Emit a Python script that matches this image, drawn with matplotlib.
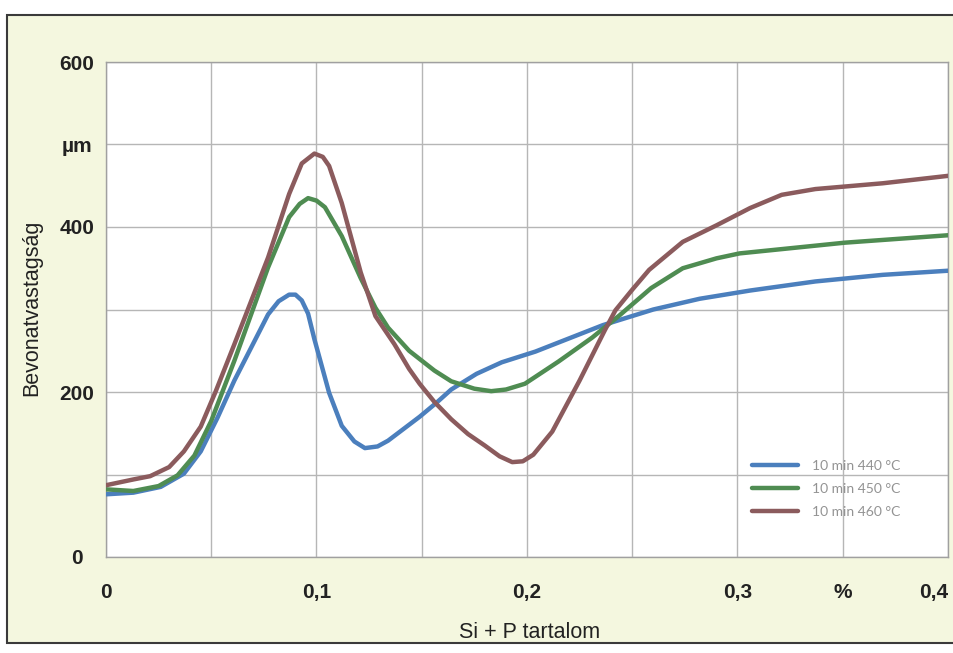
import matplotlib
matplotlib.use("Agg")
import matplotlib.pyplot as plt
from matplotlib.patches import Rectangle

# Si + P content (%) and coating thickness (um)
x_440 = [0, 0.013, 0.026, 0.037, 0.045, 0.053, 0.061, 0.077, 0.082, 0.087, 0.090,
         0.093, 0.096, 0.099, 0.106, 0.112, 0.118, 0.123, 0.129, 0.134, 0.149,
         0.157, 0.164, 0.176, 0.188, 0.204, 0.220, 0.236, 0.260, 0.282, 0.306,
         0.337, 0.369, 0.4]
y_440 = [76, 78, 85, 101, 128, 169, 214, 294, 310, 318, 318,
         311, 295, 264, 199, 159, 140, 132, 134, 141, 170,
         187, 203, 222, 236, 249, 265, 281, 300, 313, 323,
         334, 342, 347]

x_450 = [0, 0.013, 0.025, 0.034, 0.042, 0.050, 0.061, 0.077, 0.087, 0.092, 0.096,
         0.100, 0.104, 0.112, 0.121, 0.128, 0.134, 0.144, 0.156, 0.164, 0.175,
         0.183, 0.190, 0.199, 0.215, 0.231, 0.244, 0.259, 0.274, 0.290, 0.301,
         0.351, 0.4]
y_450 = [82, 80, 86, 99, 123, 165, 238, 351, 412, 428, 435,
         432, 424, 389, 338, 302, 278, 250, 226, 213, 204,
         201, 203, 210, 237, 266, 293, 326, 350, 362, 368,
         381, 390]

x_460 = [0, 0.013, 0.021, 0.030, 0.037, 0.045, 0.052, 0.061, 0.077, 0.087, 0.093,
         0.099, 0.103, 0.106, 0.112, 0.121, 0.128, 0.137, 0.144, 0.149, 0.156,
         0.164, 0.172, 0.180, 0.187, 0.193, 0.198, 0.203, 0.212, 0.225, 0.237,
         0.242, 0.250, 0.258, 0.274, 0.290, 0.306, 0.321, 0.337, 0.369, 0.4]
y_460 = [87, 94, 98, 109, 128, 158, 200, 258, 363, 440, 477,
         489, 485, 474, 429, 345, 292, 258, 228, 210, 188,
         167, 149, 135, 122, 115, 116, 124, 152, 214, 275,
         299, 324, 348, 382, 402, 423, 439, 446, 453, 462]

series_labels = ["10 min 440 °C", "10 min 450 °C", "10 min 460 °C"]
series_colors = ["#4b7fbd", "#4f8c52", "#8b5b5d"]

x_ticks = [0, 0.05, 0.1, 0.15, 0.2, 0.25, 0.3, 0.35, 0.4]
x_tick_labels = ["0", "", "0,1", "", "0,2", "", "0,3", "%", "0,4"]
y_ticks = [0, 100, 200, 300, 400, 500, 600]
y_tick_labels = ["0", "", "200", "", "400", "µm", "600"]

W, H = 954, 653
fig = plt.figure(figsize=(W / 100, H / 100), dpi=100)
fig.patch.set_facecolor("white")

# pale yellow card with dark frame behind the chart
fig.patches.append(Rectangle((7 / W, 1 - 643 / H), 1.0, (643 - 15) / H,
                             transform=fig.transFigure, facecolor="#f4f7df",
                             edgecolor="#3a3a3a", lw=1.5, zorder=-10))

ax = fig.add_axes([106 / W, 1 - 557 / H, (948 - 106) / W, (557 - 62) / H])
ax.set_zorder(5)
ax.set_facecolor("white")

for xs, ys, col, lab in zip([x_440, x_450, x_460], [y_440, y_450, y_460],
                            series_colors, series_labels):
    ax.plot(xs, ys, color=col, lw=3.2, label=lab, solid_capstyle="round",
            solid_joinstyle="round", zorder=3)

ax.set_xlim(0, 0.4)
ax.set_ylim(0, 600)
ax.set_xticks(x_ticks)
ax.set_xticklabels(x_tick_labels, fontsize=15, fontweight="bold",
                   family="Liberation Sans", color="#222222")
ax.set_yticks(y_ticks)
ax.set_yticklabels(y_tick_labels, fontsize=15, fontweight="bold",
                   family="Liberation Sans", color="#222222", ha="center")
ax.get_xticklabels()[-1].set_ha("right")
ax.tick_params(axis="x", length=0, pad=19)
ax.tick_params(axis="y", length=0, pad=21)

ax.grid(True, color="#b6b6b6", lw=1.0, zorder=1)
for sp in ax.spines.values():
    sp.set_color("#a0a0a0")
    sp.set_linewidth(1.0)

leg = ax.legend(loc="center left", bbox_to_anchor=(0.767, 0.137), frameon=False,
                prop={"family": "Lato", "size": 10}, handlelength=3.3,
                handletextpad=1.0, labelspacing=0.8, borderpad=0, borderaxespad=0)
for t in leg.get_texts():
    t.set_color("#939393")

fig.text(32 / W, 1 - 308 / H, "Bevonatvastagság", rotation=90, ha="center",
         va="center", fontsize=15.5, family="Liberation Sans", color="#222222")
fig.text(530 / W, 1 - 632 / H, "Si + P tartalom", ha="center", va="center",
         fontsize=15.5, family="Liberation Sans", color="#222222")

fig.savefig("out.png", dpi=100)
